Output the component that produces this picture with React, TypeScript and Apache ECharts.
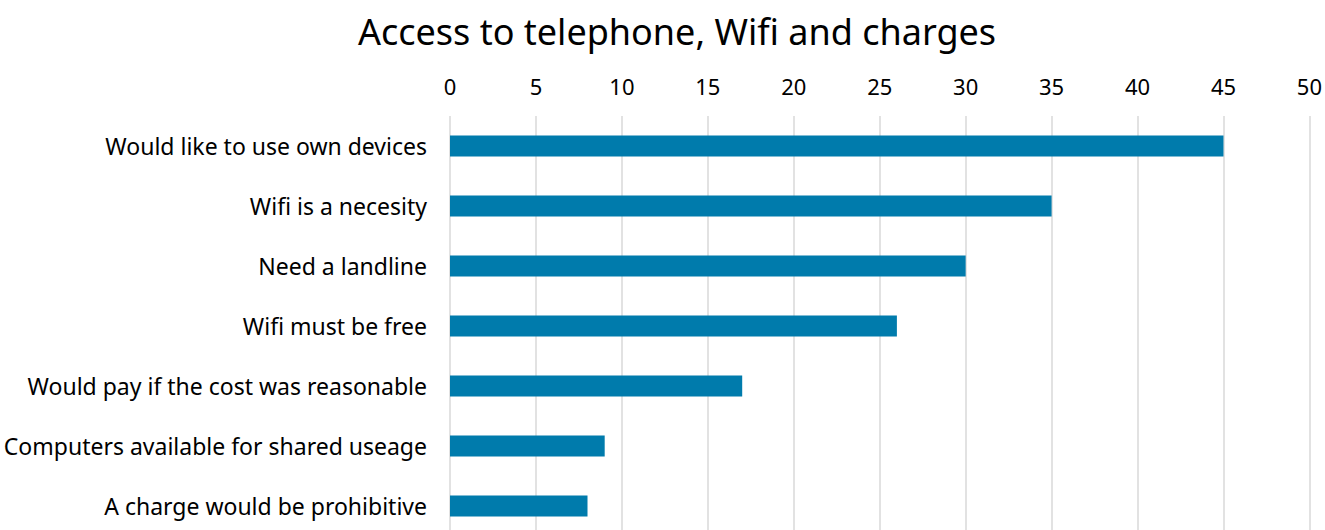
import React, { useEffect, useRef } from "react";
import * as echarts from "echarts";

const categories = [
  "Would like to use own devices",
  "Wifi is a necesity",
  "Need a landline",
  "Wifi must be free",
  "Would pay if the cost was reasonable",
  "Computers available for shared useage",
  "A charge would be prohibitive",
];
const values = [45, 35, 30, 26, 17, 9, 8];

const FONT = "'Noto Sans', sans-serif";

export default function App() {
  const ref = useRef<HTMLDivElement>(null);
  useEffect(() => {
    if (!ref.current) return;
    const chart = echarts.init(ref.current, undefined, { renderer: "svg" });
    chart.setOption({
      animation: false,
      title: {
        text: "Access to telephone, Wifi and charges",
        left: 672,
        textAlign: "center",
        top: 8,
        textStyle: { fontFamily: FONT, fontSize: 36, fontWeight: "normal", color: "#000" },
      },
      grid: { left: 450, right: 15, top: 116, bottom: 0, containLabel: false },
      xAxis: {
        type: "value",
        position: "top",
        min: 0,
        max: 50,
        interval: 5,
        axisLine: { show: false },
        axisTick: { show: false },
        axisLabel: { fontFamily: FONT, fontSize: 22, color: "#000", margin: 19 },
        splitLine: { lineStyle: { color: "#d9d9d9", width: 1.5 } },
      },
      yAxis: {
        type: "category",
        data: categories,
        inverse: true,
        axisLine: { show: false },
        axisTick: { show: false },
        axisLabel: { fontFamily: FONT, fontSize: 23, color: "#000", margin: 23 },
      },
      series: [
        {
          type: "bar",
          data: values,
          barWidth: 21,
          itemStyle: { color: "#007bac" },
        },
      ],
    });
    return () => chart.dispose();
  }, []);
  return (
    <div style={{ position: "absolute", left: 0, top: 0, width: 1325, height: 530, overflow: "hidden" }}>
      <div ref={ref} style={{ width: 1325, height: 536 }} />
    </div>
  );
}
